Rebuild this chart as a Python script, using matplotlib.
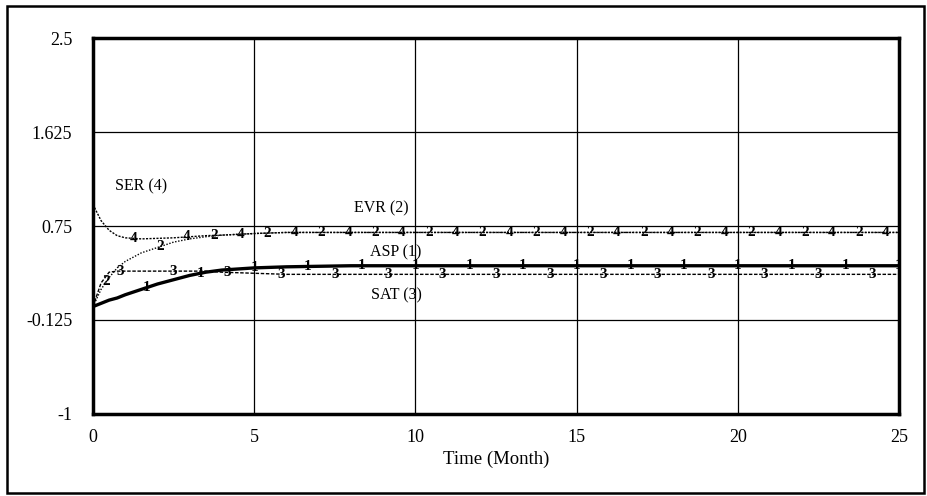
import numpy as np
import matplotlib
matplotlib.use('Agg')
from matplotlib import pyplot as plt
from matplotlib.patches import Rectangle

# time (months) and series values
t = [0, 0.25, 0.5, 0.75, 1, 1.5, 2, 2.5, 3, 3.5, 4, 5, 6, 8, 10, 15, 20, 25]
asp = [0.00, 0.03, 0.06, 0.08, 0.11, 0.16, 0.21, 0.25, 0.29, 0.32, 0.34, 0.36, 0.37, 0.38, 0.38, 0.38, 0.38, 0.38]
evr = [0.00, 0.16, 0.27, 0.36, 0.42, 0.50, 0.55, 0.60, 0.63, 0.65, 0.665, 0.68, 0.69, 0.69, 0.69, 0.69, 0.69, 0.69]
sat = [0.00, 0.22, 0.32, 0.33, 0.33, 0.33, 0.33, 0.33, 0.33, 0.33, 0.32, 0.31, 0.30, 0.30, 0.30, 0.30, 0.30, 0.30]
ser = [0.95, 0.80, 0.71, 0.66, 0.64, 0.63, 0.635, 0.64, 0.65, 0.66, 0.665, 0.68, 0.69, 0.69, 0.69, 0.69, 0.69, 0.69]

names = ['ASP (1)', 'EVR (2)', 'SAT (3)', 'SER (4)']
label_pos = [(9.4, 0.50), (8.95, 0.91), (9.4, 0.10), (1.5, 1.12)]

yticks = [-1, -0.125, 0.75, 1.625, 2.5]
yticklabels = ['-1', '-0.125', '0.75', '1.625', '2.5']
xticks = [0, 5, 10, 15, 20, 25]

plt.rcParams['font.family'] = ['Liberation Serif', 'DejaVu Serif']

fig = plt.figure(figsize=(9.27, 4.96), dpi=100)
ax = fig.add_axes([93 / 927, 1 - 414 / 496, (899 - 93) / 927, (414 - 38) / 496])

series = [asp, evr, sat, ser]
styles = [dict(lw=2.4, ls='-'),
          dict(lw=1.0, ls=(0, (1, 1.2))),
          dict(lw=1.0, ls=(0, (2.5, 1.2))),
          dict(lw=1.0, ls=(0, (1.5, 1.0)))]
period = 25 / 15
for i, (vals, st) in enumerate(zip(series, styles)):
    ax.plot(t, vals, color='black', zorder=3, **st)
    # number markers along each line, staggered like the original tool
    start = period if i == 0 else i * period / 4
    mx = np.arange(start, 25.01, period)
    my = np.interp(mx, t, vals)
    for x, y in zip(mx, my):
        ax.text(x, y, str(i + 1), fontsize=11, fontweight='bold', ha='center', va='center',
                zorder=4, clip_on=True)
    ax.text(label_pos[i][0], label_pos[i][1], names[i], fontsize=11.5, ha='center', va='center')

ax.set_xlim(0, 25)
ax.set_ylim(-1, 2.5)
ax.set_xticks(xticks)
ax.set_yticks(yticks)
ax.set_yticklabels(yticklabels)
ax.grid(True, color='black', lw=0.9)
ax.tick_params(length=0, labelsize=13)
ax.tick_params(axis='y', pad=15)
ax.tick_params(axis='x', pad=11)
for s in ax.spines.values():
    s.set_linewidth(2.5)
ax.set_xlabel('Time (Month)', fontsize=13.5, labelpad=3)

# outer frame
fig.patches.append(Rectangle((7 / 927, 1 - 493 / 496), (924 - 7) / 927, (493 - 6) / 496,
                             transform=fig.transFigure, fill=False, lw=1.8, color='black'))

fig.savefig('out.png', dpi=100)
